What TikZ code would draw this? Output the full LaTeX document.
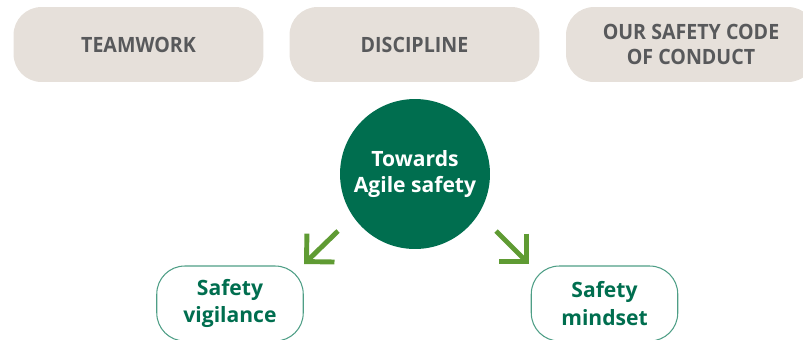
\documentclass[tikz,border=0pt]{standalone}
\usepackage{fontspec}
\setmainfont{Open Sans}
\newfontfamily\condsans[FakeStretch=0.93]{Open Sans}
\usepackage{tikz}
\usetikzlibrary{arrows.meta,positioning}
\definecolor{boxbeige}{HTML}{E6E0DA}
\definecolor{boxgray}{HTML}{58595B}
\definecolor{hubgreen}{HTML}{006E4F}
\definecolor{arrowgreen}{HTML}{5F9B33}
\definecolor{edgeteal}{HTML}{4E9E86}

\begin{document}
\begin{tikzpicture}[x=0.02cm,y=-0.02cm,
  topbox/.style={fill=boxbeige,rounded corners=0.56cm,minimum width=5.0cm,minimum height=1.5cm,align=center,inner sep=0pt,text=boxgray,font=\condsans\bfseries\fontsize{12}{14.7}\selectfont},
  hubnode/.style={circle,fill=hubgreen,minimum size=3.0cm,inner sep=0pt,align=center,text=white,font=\bfseries\fontsize{12}{14.8}\selectfont},
  leafbox/.style={draw=edgeteal,line width=0.6pt,rounded corners=0.56cm,minimum width=2.93cm,minimum height=1.5cm,align=center,inner sep=0pt,text=hubgreen,font=\bfseries\fontsize{12}{15.8}\selectfont},
  flowarrow/.style={draw=arrowgreen,line width=2.8pt,-{Straight Barb[angle=90:5.6mm]}}]
\useasboundingbox (0,0) rectangle (803,339);
\clip (0,0) rectangle (803,339);
\node[topbox] (teamwork) at (138.5,44.5) {TEAMWORK};
\node[topbox] (discipline) at (414.5,44.5) {DISCIPLINE};
\node[topbox] (conduct) at (691,44.5) {OUR SAFETY CODE\\OF CONDUCT};
\node[hubnode] (agile) at (415,174) {Towards\\Agile safety};
\node[leafbox] (vigilance) at (230,303.5) {Safety\\vigilance};
\node[leafbox] (mindset) at (604.5,303.5) {Safety\\mindset};
\coordinate (vigtail) at (338,231);
\coordinate (vighead) at (304,264);
\coordinate (mindtail) at (496,231);
\coordinate (mindhead) at (529,264);
\draw[flowarrow] (vigtail)--(vighead);
\draw[flowarrow] (mindtail)--(mindhead);
\end{tikzpicture}
\end{document}
